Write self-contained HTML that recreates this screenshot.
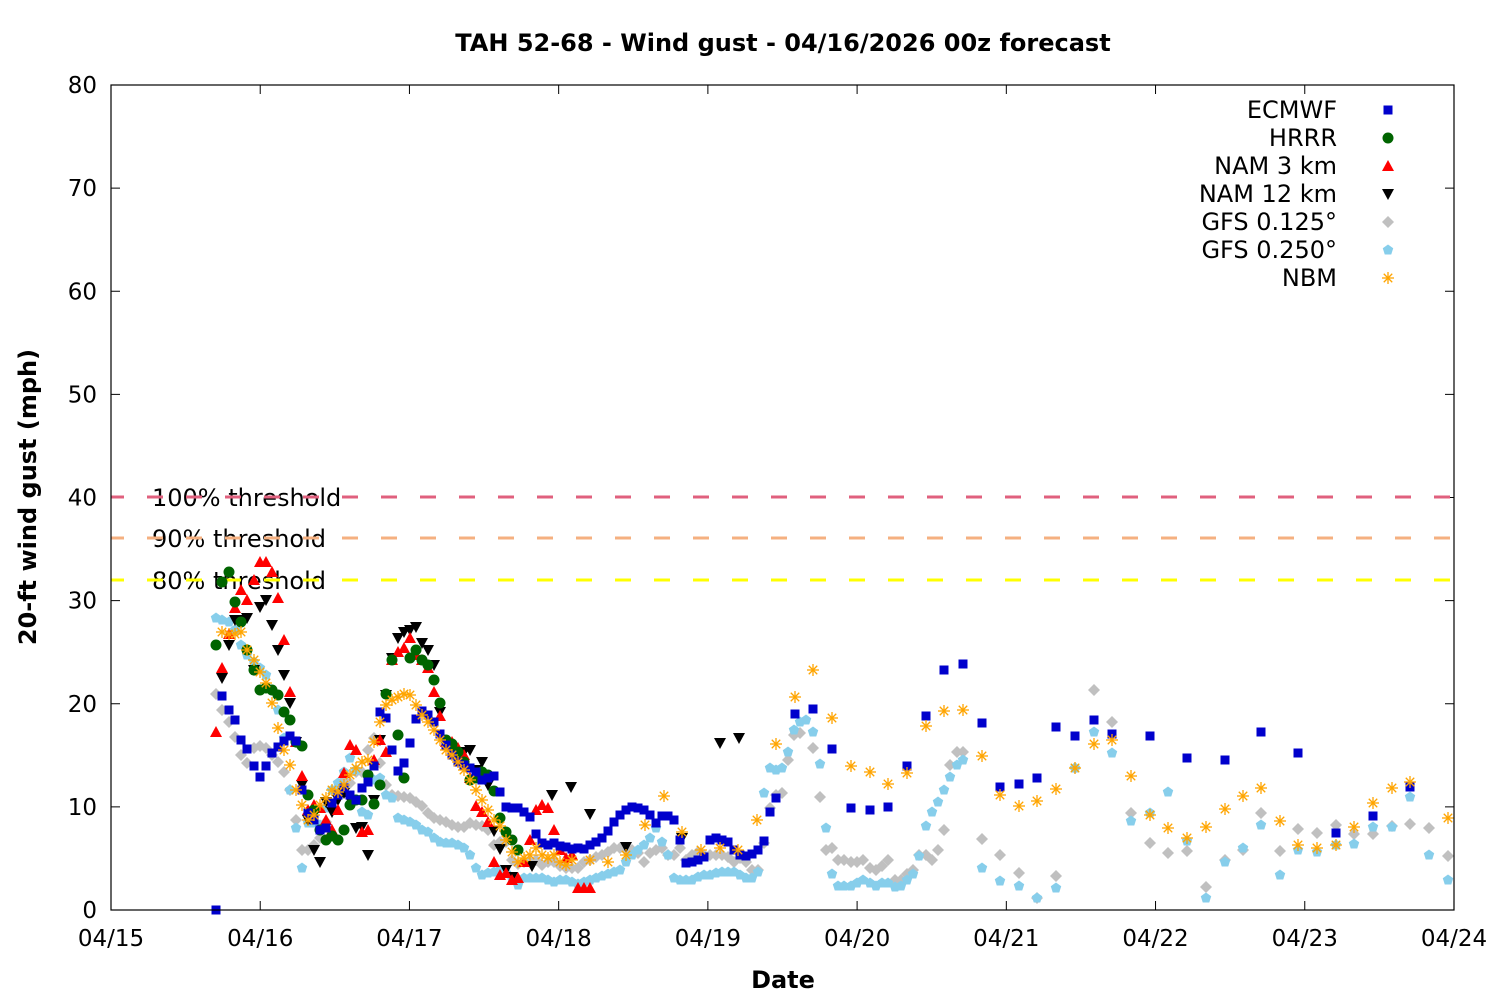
<!DOCTYPE html>
<html><head><meta charset="utf-8"><style>
html,body{margin:0;padding:0;background:#fff;}
svg{display:block;font-family:"DejaVu Sans","Liberation Sans",sans-serif;}
</style></head><body>
<svg id="s" width="1500" height="1000" xmlns="http://www.w3.org/2000/svg">
<rect width="1500" height="1000" fill="#fff"/>
<text x="783" y="51" text-anchor="middle" font-size="24" font-weight="bold">TAH 52-68 - Wind gust - 04/16/2026 00z forecast</text>
<text x="783" y="988" text-anchor="middle" font-size="24" font-weight="bold">Date</text>
<text transform="translate(36,497) rotate(-90)" text-anchor="middle" font-size="24" font-weight="bold">20-ft wind gust (mph)</text>
<g id="ax"></g>
<text x="152" y="506" font-size="24">100% threshold</text>
<text x="152" y="547" font-size="24">90% threshold</text>
<text x="152" y="589" font-size="24">80% threshold</text>
<line x1="111" y1="497" x2="1454" y2="497" stroke="#e0607e" stroke-width="3" stroke-dasharray="16,23" stroke-dashoffset="-36"/>
<line x1="111" y1="538" x2="1454" y2="538" stroke="#f5b080" stroke-width="3" stroke-dasharray="16,23" stroke-dashoffset="-36"/>
<line x1="111" y1="580" x2="1454" y2="580" stroke="#ffff00" stroke-width="3" stroke-dasharray="16,23" stroke-dashoffset="-36"/>
<g id="pts"></g>
<g font-size="24" text-anchor="end">
<text x="1337" y="118">ECMWF</text>
<text x="1337" y="146">HRRR</text>
<text x="1337" y="174">NAM 3 km</text>
<text x="1337" y="202">NAM 12 km</text>
<text x="1337" y="230">GFS 0.125°</text>
<text x="1337" y="258">GFS 0.250°</text>
<text x="1337" y="286">NBM</text>
</g>
<rect x="111" y="85" width="1343" height="825" fill="none" stroke="#000" stroke-width="1.2"/>
</svg>
<script>
var NS="http://www.w3.org/2000/svg";
function el(p,t,a,txt){var e=document.createElementNS(NS,t);for(var k in a)e.setAttribute(k,a[k]);if(txt!=null)e.textContent=txt;p.appendChild(e);return e;}
var ax=document.getElementById('ax');
for(var v=0;v<=80;v+=10){var y=910-v*10.3125;
el(ax,'line',{x1:111,y1:y,x2:120,y2:y,stroke:'#000'});
el(ax,'line',{x1:1445,y1:y,x2:1454,y2:y,stroke:'#000'});
el(ax,'text',{x:97,y:y+8,'text-anchor':'end','font-size':23},String(v));}
for(var i=0;i<=9;i++){var x=111+i*149.22;
el(ax,'line',{x1:x,y1:910,x2:x,y2:901,stroke:'#000'});
el(ax,'line',{x1:x,y1:85,x2:x,y2:94,stroke:'#000'});
el(ax,'text',{x:x,y:946,'text-anchor':'middle','font-size':23},'04/'+(15+i));}
var P=document.getElementById('pts');
function mk(t,x,y,c){
 if(t=='sq')el(P,'rect',{x:x-4.5,y:y-4.5,width:9,height:9,fill:c});
 else if(t=='ci')el(P,'circle',{cx:x,cy:y,r:5.5,fill:c});
 else if(t=='tu')el(P,'polygon',{points:(x-6)+','+(y+5)+' '+(x+6)+','+(y+5)+' '+x+','+(y-6),fill:c});
 else if(t=='td')el(P,'polygon',{points:(x-6)+','+(y-5)+' '+(x+6)+','+(y-5)+' '+x+','+(y+6),fill:c});
 else if(t=='di')el(P,'polygon',{points:x+','+(y-6)+' '+(x+6)+','+y+' '+x+','+(y+6)+' '+(x-6)+','+y,fill:c});
 else if(t=='hx'){var s='';for(var k=0;k<5;k++){var a=-Math.PI/2+k*2*Math.PI/5;s+=(x+5.5*Math.cos(a))+','+(y+5.5*Math.sin(a))+' ';}el(P,'polygon',{points:s,fill:c});}
 else if(t=='as'){for(var k=0;k<4;k++){var a=k*Math.PI/4;el(P,'line',{x1:x-6*Math.cos(a),y1:y-6*Math.sin(a),x2:x+6*Math.cos(a),y2:y+6*Math.sin(a),stroke:c,'stroke-width':1.3});}}
}
function S(t,c,a){for(var i=0;i<a.length;i+=2)mk(t,a[i],a[i+1],c);}
S('di','#c0c0c0',[216,694,222,710,229,722,235,737,241,755,247,763,254,748,260,746,266,748,272,755,278,762,284,772,290,790,296,820,302,850,308,850,314,845,320,838,326,822,332,808,338,788,344,780,350,783,356,772,362,772,368,750,374,738,380,763,386,785,392,795,398,796,404,797,410,798,416,802,422,806,428,813,434,818,440,820,446,822,452,825,458,827,464,827,470,823,476,825,482,826,488,830,494,845,500,842,506,842,512,860,518,864,524,862,530,862,536,860,542,865,548,862,554,862,560,866,566,868,572,868,578,868,584,862,590,860,596,857,602,855,608,852,614,848,620,848,626,850,632,850,638,853,644,862,650,853,656,850,662,848,668,855,674,855,680,848,686,860,692,855,698,852,704,855,710,855,716,855,722,855,728,857,734,862,740,858,746,862,752,870,758,870,764,843,770,808,776,795,782,793,788,760,794,735,800,733,813,748,820,797,826,850,832,848,838,860,844,860,851,862,857,862,863,860,870,868,876,870,882,866,888,860,895,880,901,880,907,874,913,870,919,855,926,855,932,860,938,850,944,830,950,765,957,752,963,752,982,839,1000,855,1019,873,1037,898,1056,876,1075,768,1094,690,1112,722,1131,813,1150,843,1168,853,1187,851,1206,887,1225,860,1243,850,1261,813,1280,851,1298,829,1317,833,1336,825,1354,834,1373,834,1392,826,1410,824,1429,828,1448,856]);
S('hx','#87ceeb',[216,618,222,620,229,622,235,630,241,645,247,655,254,662,260,668,266,675,272,690,278,710,284,738,290,790,296,828,302,868,308,823,314,823,320,825,326,808,332,790,338,783,344,772,350,758,356,770,362,812,368,815,374,780,380,778,386,795,392,798,398,818,404,820,410,822,416,825,422,830,428,832,434,838,440,842,446,843,452,843,458,845,464,848,470,855,476,868,482,875,488,873,494,872,500,870,506,873,512,878,518,885,524,878,530,878,536,878,542,878,548,880,554,882,560,880,566,880,572,882,578,884,584,882,590,880,596,878,602,876,608,874,614,872,620,870,626,862,632,855,638,850,644,845,650,838,656,828,662,842,668,855,674,878,680,880,686,880,692,880,698,877,704,875,710,875,716,873,722,872,728,872,734,872,740,875,746,878,752,878,758,872,764,793,770,768,776,770,782,768,788,752,794,730,800,722,806,720,813,732,820,764,826,828,832,874,838,886,844,886,851,886,857,883,863,880,870,883,876,886,882,883,888,883,895,887,901,886,907,880,913,874,919,856,926,826,932,812,938,802,944,790,950,777,957,765,963,760,982,868,1000,881,1019,886,1037,898,1056,888,1075,768,1094,732,1112,753,1131,821,1150,813,1168,792,1187,841,1206,898,1225,862,1243,848,1261,825,1280,875,1298,850,1317,852,1336,845,1354,844,1373,827,1392,827,1410,797,1429,855,1448,880]);
S('td','#000',[222,678,229,645,235,620,241,620,247,618,254,670,260,607,266,600,272,625,278,650,284,675,290,703,296,742,302,785,308,820,314,850,320,862,326,802,332,812,338,800,344,793,350,800,356,828,362,827,368,855,374,800,380,740,386,695,392,658,398,638,404,632,410,630,416,627,422,643,428,650,434,665,440,712,446,744,452,748,458,758,464,752,470,750,476,770,482,762,488,785,494,831,500,849,506,870,512,877,532,866,552,795,571,787,590,814,626,847,682,838,720,743,739,738]);
S('tu','#ff0000',[216,732,222,668,229,634,235,608,241,590,247,600,254,580,260,562,266,562,272,572,278,598,284,640,290,692,296,742,302,776,308,810,314,805,320,808,326,820,332,830,338,810,344,773,350,745,356,750,362,832,368,830,374,760,380,740,386,752,392,660,398,652,404,648,410,638,416,655,422,660,428,668,434,692,440,716,446,742,452,742,458,748,464,755,470,778,476,806,482,812,488,822,494,862,500,875,506,873,512,880,518,878,524,862,530,840,536,810,542,805,548,808,554,830,560,850,566,858,572,855,578,888,584,888,590,888]);
S('ci','#006400',[216,645,222,582,229,572,235,602,241,622,247,650,254,670,260,690,266,688,272,690,278,695,284,712,290,720,296,742,302,746,308,795,314,810,320,830,326,840,332,836,338,840,344,830,350,805,356,800,362,800,368,775,374,804,380,785,386,694,392,660,398,735,404,778,410,658,416,650,422,660,428,665,434,680,440,703,446,740,452,744,458,752,464,762,470,780,476,778,482,772,488,775,494,791,500,818,506,832,512,840,518,850]);
S('sq','#0000cc',[216,910,222,696,229,710,235,720,241,740,247,749,254,766,260,777,266,766,272,753,278,747,284,741,290,736,296,741,302,790,308,813,314,820,320,830,326,828,332,803,338,795,344,788,350,795,356,800,362,788,368,782,374,766,380,712,386,718,392,750,398,771,404,763,410,743,416,719,422,711,428,715,434,722,440,734,446,745,452,755,458,762,464,765,470,768,476,772,482,780,488,778,494,776,500,792,506,807,512,808,518,808,524,812,530,817,536,834,542,843,548,845,554,843,560,846,566,847,572,849,578,848,584,849,590,845,596,842,602,838,608,831,614,822,620,815,626,810,632,807,638,808,644,810,650,815,656,823,662,816,668,816,674,820,680,840,686,863,692,862,698,860,704,857,710,840,716,838,722,840,728,842,734,850,740,855,746,856,752,854,758,850,764,841,770,812,776,798,795,714,813,709,832,749,851,808,870,810,888,807,907,766,926,716,944,670,963,664,982,723,1000,787,1019,784,1037,778,1056,727,1075,736,1094,720,1112,734,1150,736,1187,758,1225,760,1261,732,1298,753,1336,833,1373,816,1410,787]);
S('as','#ffa500',[222,632,229,634,235,634,241,632,247,650,254,660,260,672,266,683,272,703,278,728,284,750,290,765,296,790,302,805,308,820,314,815,320,805,326,798,332,790,338,792,344,785,350,775,356,768,362,762,368,760,374,742,380,722,386,705,392,700,398,697,404,694,410,695,416,705,422,715,428,722,434,730,440,740,446,750,452,755,458,762,464,770,470,780,476,790,482,800,488,810,494,820,500,826,506,840,512,852,518,862,524,858,530,855,536,848,542,855,548,858,554,855,560,862,566,865,572,860,590,860,608,862,626,855,645,825,664,796,682,832,701,850,720,848,738,850,757,820,776,744,795,697,813,670,832,718,851,766,870,772,888,784,907,773,926,726,944,711,963,710,982,756,1000,795,1019,806,1037,801,1056,789,1075,768,1094,744,1112,740,1131,776,1150,815,1168,828,1187,838,1206,827,1225,809,1243,796,1261,788,1280,821,1298,845,1317,848,1336,845,1354,827,1373,803,1392,788,1410,782,1448,818]);
mk('sq',1388,110,'#0000cc');mk('ci',1388,138,'#006400');mk('tu',1388,166,'#ff0000');mk('td',1388,194,'#000');
mk('di',1388,222,'#c0c0c0');mk('hx',1388,250,'#87ceeb');mk('as',1388,278,'#ffa500');
</script>
</body></html>
